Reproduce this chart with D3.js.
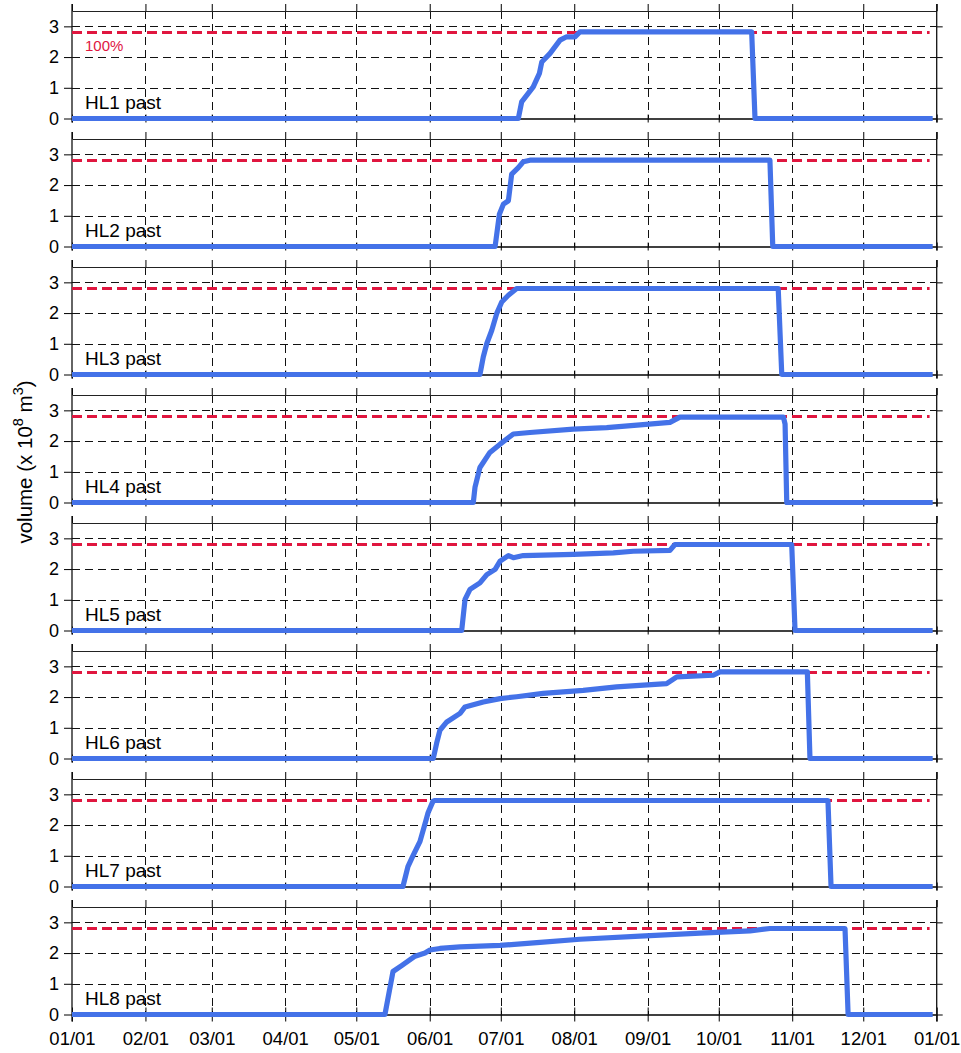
<!DOCTYPE html>
<html>
<head>
<meta charset="utf-8">
<script src="https://cdn.jsdelivr.net/npm/d3@7"></script>
<style>
  html, body { margin: 0; padding: 0; background: #fff; }
  svg { display: block; font-family: "Liberation Sans", Arial, sans-serif; }
</style>
</head>
<body>
<svg id="chart" width="961" height="1053"></svg>
<script>
// ---- data (day of year, 0 = Jan 1; volume in 10^8 m^3) ----
const MONTH_DAYS = [0, 31, 59, 90, 120, 151, 181, 212, 243, 273, 304, 334, 365];
const MONTH_LABELS = ["01/01","02/01","03/01","04/01","05/01","06/01","07/01","08/01","09/01","10/01","11/01","12/01","01/01"];
const Y_TICKS = [0, 1, 2, 3];
const SERIES_NAMES = ["HL1 past","HL2 past","HL3 past","HL4 past","HL5 past","HL6 past","HL7 past","HL8 past"];
const FULL_LEVEL = 2.8;      // 100% line
const FULL_LEVEL_END = 362;  // day where the 100% line ends
const LAST_DAY = 363.3;

const HL1_DAY = [0, 188.4, 189.8, 194.7, 197.3, 198.3, 201.8, 206.0, 208.8, 212.3, 214.4, 286.9, 288.3, LAST_DAY];
const HL1_VOL = [0, 0,     0.54,  1.03,  1.47,  1.84,  2.12,  2.55,  2.66,  2.66,  2.82,  2.82,  0,     0];

const HL2_DAY = [0, 178.6, 180.4, 182.1, 184.2, 185.6, 188.4, 190.5, 193.3, 294.6, 295.8, LAST_DAY];
const HL2_VOL = [0, 0,     1.05,  1.38,  1.49,  2.36,  2.57,  2.76,  2.81,  2.81,  0,     0];

const HL3_DAY = [0, 172.2, 173.6, 175.1, 177.2, 179.3, 181.4, 184.2, 187.7, 298.1, 299.6, LAST_DAY];
const HL3_VOL = [0, 0,     0.57,  1.01,  1.44,  1.99,  2.36,  2.58,  2.80,  2.80,  0,     0];

const HL4_DAY = [0, 169.4, 170.1, 172.2, 176.4, 180.7, 186.3, 193.3, 211.6, 225.7, 239.8, 252.4, 256.6, 300.3, 301.0, 301.7, LAST_DAY];
const HL4_VOL = [0, 0,     0.49,  1.14,  1.63,  1.90,  2.23,  2.28,  2.39,  2.44,  2.53,  2.61,  2.78,  2.78,  2.55,  0,     0];

const HL5_DAY = [0, 164.5, 165.9, 168.0, 172.2, 175.1, 178.6, 180.7, 184.2, 186.3, 190.5, 211.6, 228.5, 236.9, 252.4, 254.5, 303.8, 305.2, LAST_DAY];
const HL5_VOL = [0, 0,     1.01,  1.34,  1.55,  1.82,  1.99,  2.26,  2.44,  2.37,  2.44,  2.48,  2.53,  2.58,  2.61,  2.80,  2.80,  0,     0];

const HL6_DAY = [0, 152.5, 153.9, 155.3, 158.2, 163.8, 165.9, 173.6, 180.7, 187.7, 198.9, 215.8, 229.9, 251.0, 255.3, 270.7, 273.5, 310.4, 311.5, LAST_DAY];
const HL6_VOL = [0, 0,     0.49,  0.92,  1.19,  1.47,  1.68,  1.84,  1.95,  2.01,  2.12,  2.22,  2.33,  2.44,  2.66,  2.71,  2.82,  2.82,  0,     0];

const HL7_DAY = [0, 139.7, 141.8, 143.9, 146.9, 149.4, 150.3, 152.4, 153.2, 319.1, 320.4, LAST_DAY];
const HL7_VOL = [0, 0,     0.65,  1.00,  1.47,  2.15,  2.40,  2.78,  2.80,  2.80,  0,     0];

const HL8_DAY = [0, 132.1, 135.5, 139.3, 144.8, 149.0, 151.1, 155.3, 163.8, 180.7, 197.6, 214.4, 239.8, 265.1, 286.2, 294.6, 326.3, 327.6, LAST_DAY];
const HL8_VOL = [0, 0,     1.40,  1.60,  1.90,  2.00,  2.10,  2.15,  2.20,  2.25,  2.35,  2.45,  2.55,  2.65,  2.72,  2.80,  2.80,  0,     0];

const SERIES_DAYS = [HL1_DAY, HL2_DAY, HL3_DAY, HL4_DAY, HL5_DAY, HL6_DAY, HL7_DAY, HL8_DAY];
const SERIES_VOLS = [HL1_VOL, HL2_VOL, HL3_VOL, HL4_VOL, HL5_VOL, HL6_VOL, HL7_VOL, HL8_VOL];

// ---- layout ----
const LEFT = 72, RIGHT = 936.7;
const PANEL_TOP0 = 11, PANEL_STEP = 128, PANEL_H = 107.5;
const BLUE = "#4472e8", RED = "#e0163f";
const FONT = "'Liberation Sans', Arial, sans-serif";

const svg = d3.select("#chart");
const x = d3.scaleLinear().domain([0, 365]).range([LEFT, RIGHT]);
const y = d3.scaleLinear().domain([0, 3.5]).range([PANEL_H, 0]);
const line = d3.line().x(d => x(d[0])).y(d => y(d[1]));

SERIES_NAMES.forEach((name, i) => {
  const last = i === SERIES_NAMES.length - 1;
  const g = svg.append("g").attr("transform", `translate(0,${PANEL_TOP0 + PANEL_STEP * i})`);

  // horizontal grid
  g.append("g").selectAll("line").data(Y_TICKS.filter(v => v > 0)).join("line")
    .attr("x1", LEFT).attr("x2", RIGHT).attr("y1", d => Math.round(y(d)) + 0.5).attr("y2", d => Math.round(y(d)) + 0.5)
    .attr("stroke", "#111").attr("stroke-width", 1).attr("stroke-dasharray", "8,5");
  // vertical grid
  g.append("g").selectAll("line").data(MONTH_DAYS.slice(1, -1)).join("line")
    .attr("x1", d => Math.round(x(d)) + 0.5).attr("x2", d => Math.round(x(d)) + 0.5).attr("y1", 0).attr("y2", PANEL_H)
    .attr("stroke", "#111").attr("stroke-width", 1).attr("stroke-dasharray", "8,5");

  // top frame with outward ticks
  const topAx = g.append("g").call(d3.axisTop(x).tickValues(MONTH_DAYS).tickSize(7).tickSizeOuter(0).tickFormat(""));
  topAx.select(".domain").attr("stroke", "#222");
  // bottom (zero) axis
  const tk = last ? 7 : 4;
  const botAx = g.append("g").attr("transform", `translate(0,${PANEL_H})`)
    .call(d3.axisBottom(x).tickValues(MONTH_DAYS).tickSize(tk).tickSizeOuter(0)
      .tickPadding(10).tickFormat((d, j) => last ? MONTH_LABELS[j] : ""));
  botAx.select(".domain").attr("stroke", "#000").attr("stroke-width", 1.3);
  botAx.selectAll("text").attr("font-size", 18.5).attr("fill", "#000").attr("font-family", FONT);
  g.append("g").attr("transform", `translate(0,${PANEL_H})`)
    .call(d3.axisTop(x).tickValues(MONTH_DAYS).tickSize(tk).tickSizeOuter(0).tickFormat(""))
    .select(".domain").remove();

  // left axis
  const lAx = g.append("g").attr("transform", `translate(${LEFT},0)`)
    .call(d3.axisLeft(y).tickValues(Y_TICKS).tickSize(8).tickSizeOuter(0).tickPadding(5).tickFormat(d3.format("d")));
  lAx.select(".domain").remove();
  lAx.selectAll("text").attr("font-size", 18).attr("fill", "#000").attr("font-family", FONT);
  // right axis
  const rAx = g.append("g").attr("transform", `translate(${RIGHT},0)`)
    .call(d3.axisRight(y).tickValues(Y_TICKS).tickSize(6).tickSizeOuter(0).tickFormat(""));
  rAx.select(".domain").remove();

  // spines
  [LEFT, RIGHT].forEach(sx => {
    g.append("line").attr("x1", sx).attr("x2", sx).attr("y1", -7).attr("y2", PANEL_H + tk)
      .attr("stroke", "#111").attr("stroke-width", 1.3);
  });

  // 100% line
  g.append("path")
    .attr("d", line([[0, FULL_LEVEL], [FULL_LEVEL_END, FULL_LEVEL]]))
    .attr("fill", "none").attr("stroke", RED).attr("stroke-width", 3).attr("stroke-dasharray", "10,5");

  // series line
  const pts = SERIES_DAYS[i].map((d, j) => [d, SERIES_VOLS[i][j]]);
  g.append("path").attr("d", line(pts))
    .attr("fill", "none").attr("stroke", BLUE).attr("stroke-width", 5.2)
    .attr("stroke-linejoin", "round");

  // label
  g.append("text").attr("x", 85).attr("y", PANEL_H - 9.5)
    .attr("font-size", 19).attr("fill", "#000").text(name);

  if (i === 0) {
    g.append("text").attr("x", 85).attr("y", y(FULL_LEVEL) + 18)
      .attr("font-size", 15).attr("fill", RED).text("100%");
  }
});

// y axis title
const yt = svg.append("text")
  .attr("transform", "translate(32,462) rotate(-90)")
  .attr("text-anchor", "middle").attr("font-size", 20.5).attr("fill", "#000");
yt.append("tspan").text("volume (x 10");
yt.append("tspan").attr("dy", -9).attr("font-size", 14.5).text("8");
yt.append("tspan").attr("dy", 9).text(" m");
yt.append("tspan").attr("dy", -9).attr("font-size", 14.5).text("3");
yt.append("tspan").attr("dy", 9).text(")");
</script>
</body>
</html>
